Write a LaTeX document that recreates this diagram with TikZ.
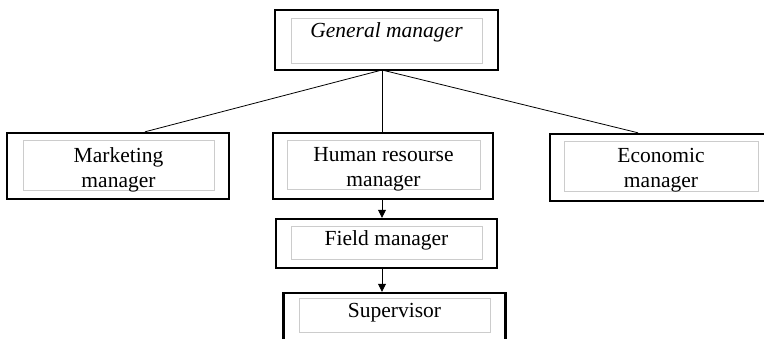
\documentclass[tikz,border=0pt]{standalone}
\usepackage{fontspec}
\setmainfont{Liberation Serif}
\usetikzlibrary{arrows.meta}
\tikzset{
outerbox/.style={draw=black, line width=2.4pt, minimum width=222pt, minimum height=66pt, inner sep=0pt},
innerbox/.style={draw=black!20, line width=1pt, minimum width=191pt, minimum height=49pt, inner sep=0pt},
lbl/.style={align=center, inner sep=0pt, font=\fontsize{21.5}{25}\selectfont},
link/.style={line width=0.8pt},
down/.style={line width=0.8pt, -{Triangle[length=8pt,width=8pt]}}}

\begin{document}
\begin{tikzpicture}[x=1pt,y=-1pt]
    \useasboundingbox (0,0) rectangle (764,339);

    \node[outerbox, minimum width=223pt, minimum height=60pt] (gm) at (386.5,40) {};
    \node[innerbox, minimum height=45pt] (gmin) at (386.5,41.5) {};
    \node[lbl, font=\fontsize{21.5}{25}\selectfont\itshape] (gmtxt) at (386.5,32.5) {General manager};

    \node[outerbox] (mkt) at (118,166) {};
    \node[innerbox, minimum height=50pt] (mktin) at (118.5,166) {};
    \node[lbl] (mkttxt) at (118.5,169.5) {Marketing\\manager};

    \node[outerbox, minimum width=220pt] (hr) at (383,166) {};
    \node[innerbox, minimum width=193pt] (hrin) at (383.5,165.5) {};
    \node[lbl] (hrtxt) at (383.5,169) {Human resourse\\manager};

    \node[outerbox, minimum height=67pt] (eco) at (661,167.5) {};
    \node[innerbox, minimum width=194pt, minimum height=50pt] (ecoin) at (661,167) {};
    \node[lbl] (ecotxt) at (661,170) {Economic\\manager};

    \node[outerbox, minimum width=221pt, minimum height=49pt] (fld) at (386.5,243.5) {};
    \node[innerbox, minimum height=33pt] (fldin) at (386.5,243.5) {};
    \node[lbl] (fldtxt) at (386.5,240) {Field manager};

    \node[outerbox, minimum height=67pt] (sup) at (394.5,326.5) {};
    \node[innerbox, minimum height=34pt] (supin) at (394.5,316) {};
    \node[lbl] (suptxt) at (394.5,313) {Supervisor};

    % links from the general manager
    \coordinate (gmjoin) at (382,70);
    \draw[link] (gmjoin) -- ([xshift=27pt]mkt.north);
    \draw[link] (gmjoin) -- (hr.north -| gmjoin);
    \draw[link] (gmjoin) -- ([xshift=-23pt]eco.north);

    \draw[down] (hr.south -| gmjoin) -- (fld.north -| gmjoin);
    \draw[down] (fld.south -| gmjoin) -- (sup.north -| gmjoin);
\end{tikzpicture}
\end{document}
